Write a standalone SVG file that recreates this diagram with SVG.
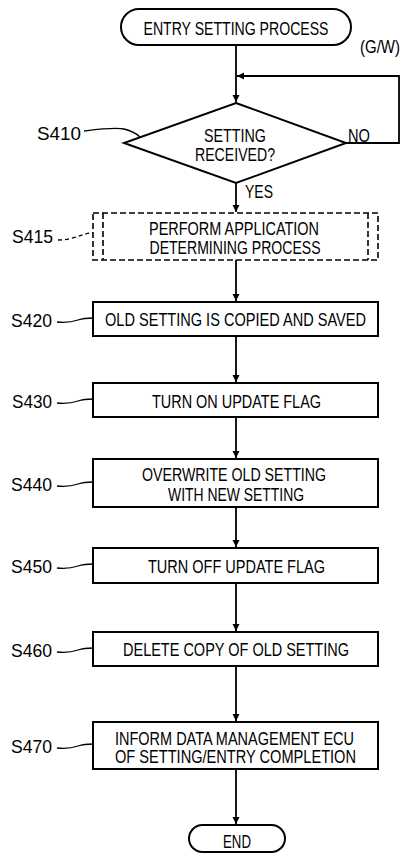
<svg xmlns="http://www.w3.org/2000/svg" width="403" height="854" viewBox="0 0 403 854">
<defs>
<marker id="ah" viewBox="0 0 10 10" refX="10" refY="5" markerWidth="7" markerHeight="10" markerUnits="userSpaceOnUse" orient="auto">
<path d="M0,0 L10,5 L0,10 Z" fill="#000"/>
</marker>
<style>
.t{font-family:"Liberation Sans",Arial,sans-serif;font-size:19px;fill:#000;text-anchor:middle}
.l{font-family:"Liberation Sans",Arial,sans-serif;font-size:19px;fill:#000;text-anchor:start}
.b{fill:#fff;stroke:#000;stroke-width:2}
.d{fill:none;stroke:#000;stroke-width:1.6;stroke-dasharray:6,3}
.c{fill:none;stroke:#000;stroke-width:1.8}
.ld{fill:none;stroke:#000;stroke-width:1.3}
</style>
</defs>
<rect width="403" height="854" fill="#fff"/>

<g id="connectors">
<path class="c" d="M236,45 V102" marker-end="url(#ah)"/>
<path class="c" d="M346,143 H399 V76 H237" marker-end="url(#ah)"/>
<path class="c" d="M236,183 V212" marker-end="url(#ah)"/>
<path class="c" d="M236,260 V301" marker-end="url(#ah)"/>
<path class="c" d="M236,336 V382" marker-end="url(#ah)"/>
<path class="c" d="M236,417 V458" marker-end="url(#ah)"/>
<path class="c" d="M236,507 V547" marker-end="url(#ah)"/>
<path class="c" d="M236,583 V631" marker-end="url(#ah)"/>
<path class="c" d="M236,666 V721" marker-end="url(#ah)"/>
<path class="c" d="M236,769 V824" marker-end="url(#ah)"/>
<text class="l" transform="translate(348,142) scale(0.75,1)" textLength="29.3" lengthAdjust="spacingAndGlyphs">NO</text>
<text class="l" transform="translate(245,198) scale(0.75,1)" textLength="37.3" lengthAdjust="spacingAndGlyphs">YES</text>
</g>

<g id="start">
<rect class="b" x="121" y="9" width="230" height="36" rx="18"/>
<text class="t" transform="translate(236,35) scale(0.75,1)" textLength="246.7" lengthAdjust="spacingAndGlyphs">ENTRY SETTING PROCESS</text>
<text class="l" transform="translate(360,53) scale(0.75,1)" textLength="53.3" lengthAdjust="spacingAndGlyphs">(G/W)</text>
</g>

<g id="S410">
<path class="b" d="M236,103 L346,143 L236,183 L124,143 Z"/>
<text class="t" transform="translate(235,142) scale(0.75,1)" textLength="82.7" lengthAdjust="spacingAndGlyphs">SETTING</text>
<text class="t" transform="translate(235,161) scale(0.75,1)" textLength="106.7" lengthAdjust="spacingAndGlyphs">RECEIVED?</text>
<text class="l" transform="translate(37,140) scale(0.75,1)" textLength="58.7" lengthAdjust="spacingAndGlyphs">S410</text>
<path class="ld" d="M84,131 C100,129 115,127 124,129 C132,131 137,134 140,137"/>
</g>

<g id="S415">
<rect class="d" x="93" y="213" width="285" height="47"/>
<path class="d" d="M103,213 V260 M368,213 V260"/>
<text class="t" transform="translate(234,235) scale(0.75,1)" textLength="226.7" lengthAdjust="spacingAndGlyphs">PERFORM APPLICATION</text>
<text class="t" transform="translate(235,254) scale(0.75,1)" textLength="228" lengthAdjust="spacingAndGlyphs">DETERMINING PROCESS</text>
<text class="l" transform="translate(12,243) scale(0.75,1)" textLength="54.7" lengthAdjust="spacingAndGlyphs">S415</text>
<path class="ld" stroke-dasharray="4,3" d="M58,240 C70,240 78,236 86,234 C89,233 91,233 93,233"/>
</g>

<g id="S420">
<rect class="b" x="93" y="302" width="285" height="34"/>
<text class="t" transform="translate(235.5,326) scale(0.75,1)" textLength="348" lengthAdjust="spacingAndGlyphs">OLD SETTING IS COPIED AND SAVED</text>
<text class="l" transform="translate(11,327) scale(0.75,1)" textLength="54.7" lengthAdjust="spacingAndGlyphs">S420</text>
<path class="ld" d="M57,322 C66,323 72,322 78,320 C84,318 88,318 93,318"/>
</g>

<g id="S430">
<rect class="b" x="93" y="383" width="285" height="34"/>
<text class="t" transform="translate(236.5,408) scale(0.75,1)" textLength="225.3" lengthAdjust="spacingAndGlyphs">TURN ON UPDATE FLAG</text>
<text class="l" transform="translate(12,408) scale(0.75,1)" textLength="53.3" lengthAdjust="spacingAndGlyphs">S430</text>
<path class="ld" d="M57,403 C66,404 72,403 78,401 C84,399 88,399 93,399"/>
</g>

<g id="S440">
<rect class="b" x="93" y="459" width="285" height="48"/>
<text class="t" transform="translate(234,481) scale(0.75,1)" textLength="245.3" lengthAdjust="spacingAndGlyphs">OVERWRITE OLD SETTING</text>
<text class="t" transform="translate(236,501) scale(0.75,1)" textLength="181.3" lengthAdjust="spacingAndGlyphs">WITH NEW SETTING</text>
<text class="l" transform="translate(11,491) scale(0.75,1)" textLength="54.7" lengthAdjust="spacingAndGlyphs">S440</text>
<path class="ld" d="M57,486 C66,487 72,486 78,484 C84,482 88,482 93,482"/>
</g>

<g id="S450">
<rect class="b" x="93" y="548" width="285" height="35"/>
<text class="t" transform="translate(236.5,573) scale(0.75,1)" textLength="236" lengthAdjust="spacingAndGlyphs">TURN OFF UPDATE FLAG</text>
<text class="l" transform="translate(11,573) scale(0.75,1)" textLength="54.7" lengthAdjust="spacingAndGlyphs">S450</text>
<path class="ld" d="M57,568 C66,569 72,568 78,566 C84,564 88,564 93,564"/>
</g>

<g id="S460">
<rect class="b" x="93" y="632" width="285" height="34"/>
<text class="t" transform="translate(236,656) scale(0.75,1)" textLength="301.3" lengthAdjust="spacingAndGlyphs">DELETE COPY OF OLD SETTING</text>
<text class="l" transform="translate(11,657) scale(0.75,1)" textLength="54.7" lengthAdjust="spacingAndGlyphs">S460</text>
<path class="ld" d="M57,652 C66,653 72,652 78,650 C84,648 88,648 93,648"/>
</g>

<g id="S470">
<rect class="b" x="93" y="722" width="285" height="47"/>
<text class="t" transform="translate(234.5,745) scale(0.75,1)" textLength="318.7" lengthAdjust="spacingAndGlyphs">INFORM DATA MANAGEMENT ECU</text>
<text class="t" transform="translate(235.5,763) scale(0.75,1)" textLength="321.3" lengthAdjust="spacingAndGlyphs">OF SETTING/ENTRY COMPLETION</text>
<text class="l" transform="translate(11,753) scale(0.75,1)" textLength="54.7" lengthAdjust="spacingAndGlyphs">S470</text>
<path class="ld" d="M57,748 C66,749 72,748 78,746 C84,744 88,744 93,744"/>
</g>

<g id="end">
<rect class="b" x="189" y="825" width="96" height="27" rx="13.5"/>
<text class="t" transform="translate(237,848) scale(0.75,1)" textLength="37.3" lengthAdjust="spacingAndGlyphs">END</text>
</g>
</svg>
